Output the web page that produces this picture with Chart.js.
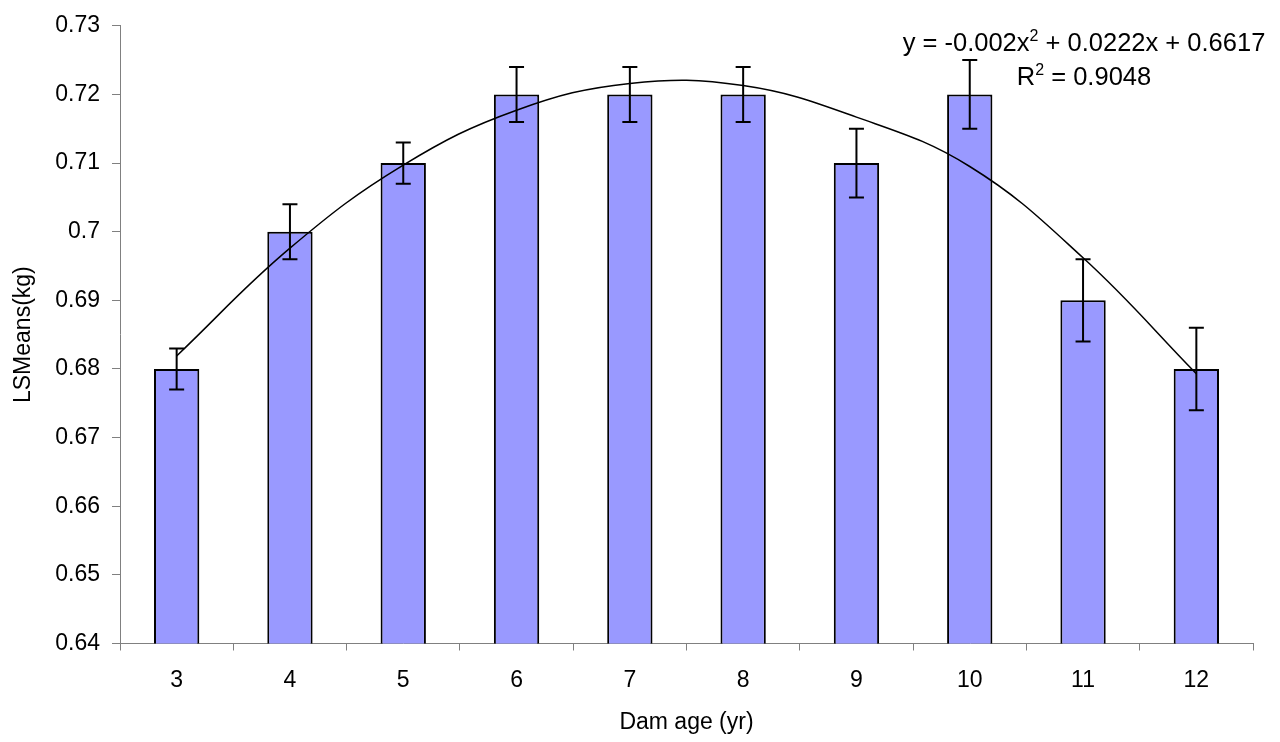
<!DOCTYPE html>
<html>
<head>
<meta charset="utf-8">
<script src="https://cdn.jsdelivr.net/npm/chart.js@4/dist/chart.umd.min.js"></script>
<style>
  body { margin: 0; background: #fff; }
</style>
</head>
<body>
<canvas id="myChart" width="1280" height="742"></canvas>
<script>
// Dam age categories
var damAge = ['3', '4', '5', '6', '7', '8', '9', '10', '11', '12'];
// LSMeans (kg) per dam age
var lsMeans = [0.68, 0.70, 0.71, 0.72, 0.72, 0.72, 0.71, 0.72, 0.69, 0.68];
// standard errors (half height of the error bars)
var stdErr = [0.003, 0.004, 0.003, 0.004, 0.004, 0.004, 0.005, 0.005, 0.006, 0.006];
// polynomial trend line at each category
var trend = [0.6819, 0.6976, 0.7097, 0.7177, 0.7216, 0.7213, 0.7167, 0.7095, 0.6962, 0.6793];
// y tick labels as printed
var yTickLabels = ['0.64', '0.65', '0.66', '0.67', '0.68', '0.69', '0.7', '0.71', '0.72', '0.73'];

var FONT = "'Liberation Sans', Arial, sans-serif";
Chart.defaults.font.family = FONT;
Chart.defaults.color = '#000';

// error bars drawn through the y scale
var errorBars = {
    id: 'errorBars',
    afterDatasetsDraw: function(chart) {
        var meta = chart.getDatasetMeta(1);
        var y = chart.scales.y;
        var ctx = chart.ctx;
        ctx.save();
        ctx.strokeStyle = '#000';
        ctx.lineWidth = 2;
        meta.data.forEach(function(bar, i) {
            var top = y.getPixelForValue(lsMeans[i] + stdErr[i]);
            var bot = y.getPixelForValue(lsMeans[i] - stdErr[i]);
            var x = bar.x;
            ctx.beginPath();
            ctx.moveTo(x, top); ctx.lineTo(x, bot);
            ctx.moveTo(x - 7.5, top); ctx.lineTo(x + 7.5, top);
            ctx.moveTo(x - 7.5, bot); ctx.lineTo(x + 7.5, bot);
            ctx.stroke();
        });
        ctx.restore();
    }
};

// trend line equation and R squared
var equation = {
    id: 'equation',
    afterDraw: function(chart) {
        var ctx = chart.ctx;
        var area = chart.chartArea;
        var cx = area.right - 169;
        ctx.save();
        ctx.fillStyle = '#000';
        ctx.textBaseline = 'alphabetic';
        ctx.textAlign = 'left';
        var big = '25.5px ' + FONT, small = '16px ' + FONT;
        var parts = [['y = -0.002x', big, 0], ['2', small, -10], [' + 0.0222x + 0.6617', big, 0]];
        var w = 0;
        parts.forEach(function(p) { ctx.font = p[1]; w += ctx.measureText(p[0]).width; });
        var x = cx - w / 2, base = area.top + 25;
        parts.forEach(function(p) {
            ctx.font = p[1];
            ctx.fillText(p[0], x, base + p[2]);
            x += ctx.measureText(p[0]).width;
        });
        parts = [['R', big, 0], ['2', small, -10], [' = 0.9048', big, 0]];
        w = 0;
        parts.forEach(function(p) { ctx.font = p[1]; w += ctx.measureText(p[0]).width; });
        x = cx - w / 2; base = area.top + 59;
        parts.forEach(function(p) {
            ctx.font = p[1];
            ctx.fillText(p[0], x, base + p[2]);
            x += ctx.measureText(p[0]).width;
        });
        ctx.restore();
    }
};

var ctx = document.getElementById('myChart').getContext('2d');
var myChart = new Chart(ctx, {
    type: 'bar',
    data: {
        labels: damAge,
        datasets: [{
            type: 'line',
            label: 'Trend',
            data: trend,
            borderColor: '#000',
            borderWidth: 1.5,
            pointRadius: 0,
            tension: 0.4,
            fill: false,
            order: 0
        }, {
            label: 'LSMeans',
            data: lsMeans,
            backgroundColor: '#9999FF',
            borderColor: '#000',
            borderWidth: 2,
            barPercentage: 0.4,
            categoryPercentage: 1,
            order: 1
        }]
    },
    options: {
        responsive: false,
        animation: false,
        devicePixelRatio: 1,
        layout: { padding: { top: 22, right: 27, left: 0, bottom: 0 } },
        plugins: { legend: { display: false }, tooltip: { enabled: false } },
        scales: {
            x: {
                afterFit: function(scale) { scale.height = 98.5; },
                grid: { drawOnChartArea: false, tickLength: 7, color: '#808080', offset: true },
                border: { color: '#808080', width: 1 },
                ticks: { font: { size: 23 }, padding: 16, color: '#000' },
                title: { display: true, text: 'Dam age (yr)', font: { size: 23 }, padding: { top: 0, bottom: 6 } }
            },
            y: {
                min: 0.64,
                max: 0.73,
                afterFit: function(scale) { scale.width = 120; },
                grid: { drawOnChartArea: false, tickLength: 8, color: '#808080' },
                border: { color: '#808080', width: 1 },
                ticks: {
                    stepSize: 0.01,
                    font: { size: 23 },
                    padding: 12,
                    color: '#000',
                    callback: function(v, i) { return yTickLabels[i]; }
                },
                title: { display: true, text: 'LSMeans(kg)', font: { size: 23 }, padding: { top: 10, bottom: 0 } }
            }
        }
    },
    plugins: [errorBars, equation]
});
</script>
</body>
</html>
